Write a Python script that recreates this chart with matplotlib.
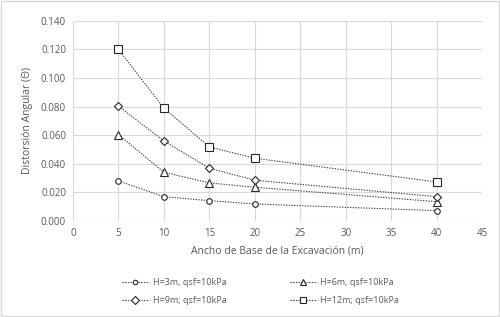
import matplotlib.pyplot as plt

# datos
ancho = [5, 10, 15, 20, 40]
h3 = [0.028, 0.017, 0.0142, 0.0119, 0.0072]
h6 = [0.0604, 0.0341, 0.0266, 0.0236, 0.0135]
h9 = [0.0803, 0.056, 0.0369, 0.0285, 0.017]
h12 = [0.120, 0.079, 0.0518, 0.0439, 0.0273]
etiquetas = ["H=3m, qsf=10kPa", "H=6m, qsf=10kPa", "H=9m; qsf=10kPa", "H=12m; qsf=10kPa"]
marcadores = ["o", "^", "D", "s"]
tamanos = [4, 6, 4.5, 6]

plt.rcParams['font.family'] = ['Open Sans', 'DejaVu Sans']
gris = '#595959'

fig = plt.figure(figsize=(5, 3.17), dpi=100)
fig.patches.append(plt.Rectangle((0.002, 0.003), 0.996, 0.994, transform=fig.transFigure,
                                 fill=False, edgecolor='#d9d9d9', linewidth=1))
ax = fig.add_axes([0.146, 0.303, 0.818, 0.631])

lineas = []
for serie, lab, m, s in zip([h3, h6, h9, h12], etiquetas, marcadores, tamanos):
    l, = ax.plot(ancho, serie, color='#404040', linestyle=(0, (1.2, 1.2)), linewidth=0.8,
                 marker=m, markersize=s, markerfacecolor='white', markeredgecolor='#262626',
                 markeredgewidth=0.8, label=lab)
    lineas.append(l)

ax.set_xlim(0, 45)
ax.set_ylim(0, 0.14)
ax.set_xticks(range(0, 50, 5))
ax.set_yticks([0, 0.02, 0.04, 0.06, 0.08, 0.10, 0.12, 0.14])
ax.set_yticklabels(["%.3f" % v for v in ax.get_yticks()])
ax.grid(True, color='#d9d9d9', linewidth=0.8)
ax.set_axisbelow(True)
for sp in ax.spines.values():
    sp.set_visible(False)
ax.tick_params(length=0, labelsize=7, colors=gris, pad=5)
ax.set_xlabel("Ancho de Base de la Excavación (m)", fontsize=7.5, color=gris, labelpad=5)
ax.set_ylabel("Distorsión Angular (Θ)", fontsize=7.5, color=gris, labelpad=6)

# orden por filas como en la leyenda original
orden = [0, 2, 1, 3]
leg = fig.legend([lineas[i] for i in orden], [etiquetas[i] for i in orden],
                 loc='lower center', bbox_to_anchor=(0.521, 0.012), ncol=2, frameon=False,
                 fontsize=6.5, columnspacing=7, handlelength=3, handletextpad=0.4,
                 labelspacing=0.95, markerscale=0.8)
for t in leg.get_texts():
    t.set_color(gris)

plt.savefig('out.png', dpi=100)
